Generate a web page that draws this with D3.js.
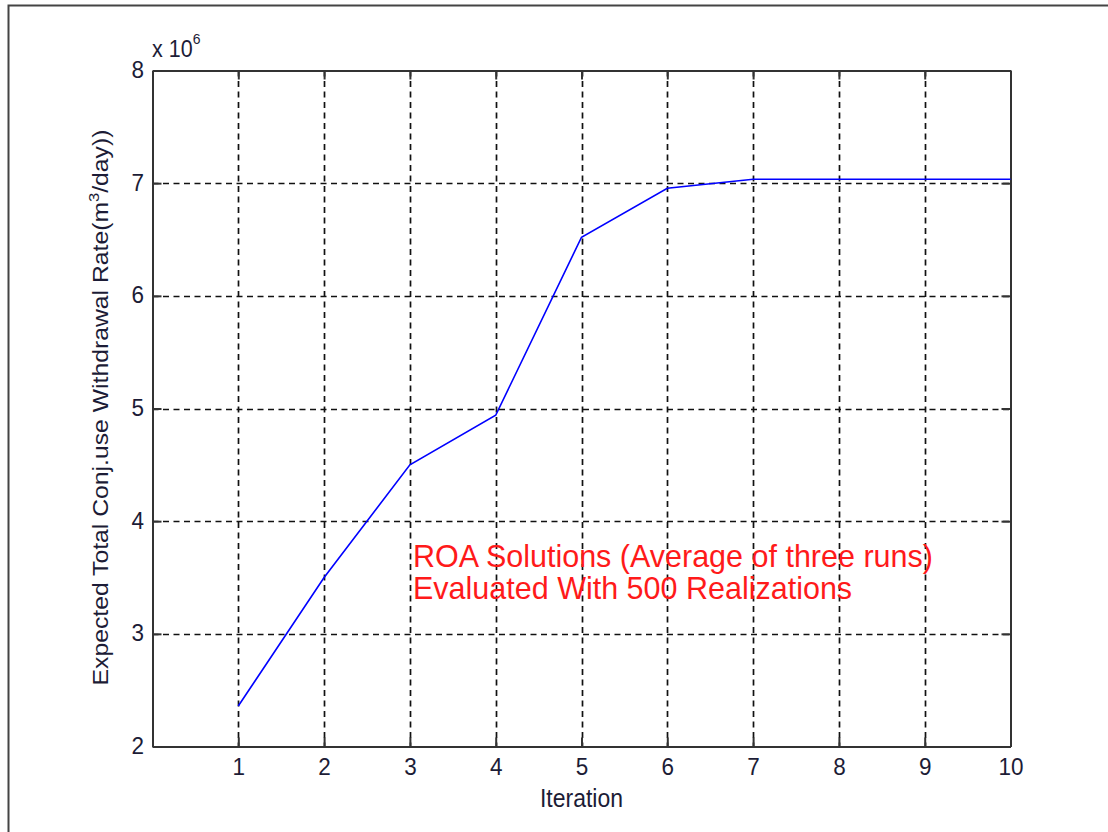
<!DOCTYPE html>
<html>
<head>
<meta charset="utf-8">
<script src="https://cdn.jsdelivr.net/npm/d3@7"></script>
<style>
  html, body { margin: 0; padding: 0; background: #fff; }
  svg { display: block; font-family: "Liberation Sans", Arial, sans-serif; }
</style>
</head>
<body>
<svg id="chart" width="1108" height="832"></svg>
<script>
// Iteration number and expected total conjunctive-use withdrawal rate (x 10^6 m^3/day)
const iterations = [1, 2, 3, 4, 5, 6, 7, 8, 9, 10];
const withdrawal = [2.36, 3.50, 4.50, 4.94, 6.52, 6.955, 7.035, 7.035, 7.035, 7.035];
const xTicks = [1, 2, 3, 4, 5, 6, 7, 8, 9, 10];
const yTicks = [2, 3, 4, 5, 6, 7, 8];
const annotation = ["ROA Solutions (Average of three runs)", "Evaluated With 500 Realizations"];

const svg = d3.select("#chart");
const plot = { left: 152.5, top: 70.5, right: 1010.5, bottom: 746.5 };
const textColor = "#1c1c36";
const fontSize = 22.5;
const stretch = 1.1;   // glyphs are drawn slightly tall

const x = d3.scaleLinear().domain([0, 10]).range([plot.left, plot.right]);
const y = d3.scaleLinear().domain([2, 8]).range([plot.bottom, plot.top]);

// outer figure frame
svg.append("path")
  .attr("d", "M8.5,840 L8.5,5.5 L1120,5.5")
  .attr("fill", "none").attr("stroke", "#444").attr("stroke-width", 2);

const g = svg.append("g");

// dashed grid
g.append("g").selectAll("line").data(xTicks.filter(d => d < 10)).join("line")
  .attr("x1", d => Math.round(x(d)) + 0.5).attr("x2", d => Math.round(x(d)) + 0.5)
  .attr("y1", plot.top).attr("y2", plot.bottom)
  .attr("stroke", "#111").attr("stroke-width", 1.7).attr("stroke-dasharray", "6,4.5");
g.append("g").selectAll("line").data(yTicks.filter(d => d > 2 && d < 8)).join("line")
  .attr("y1", d => Math.round(y(d)) + 0.5).attr("y2", d => Math.round(y(d)) + 0.5)
  .attr("x1", plot.left).attr("x2", plot.right)
  .attr("stroke", "#111").attr("stroke-width", 1.7).attr("stroke-dasharray", "6,4.5");

// axes with inward ticks on all four sides
const tickLen = 9;
const axisStyle = sel => {
  sel.select(".domain").attr("stroke", "#333").attr("stroke-width", 2);
  sel.selectAll(".tick line").attr("stroke", "#333").attr("stroke-width", 2);
  sel.selectAll(".tick text").attr("fill", textColor).attr("font-size", fontSize);
};
g.append("g").attr("transform", `translate(0,${plot.bottom})`)
  .call(d3.axisBottom(x).tickValues(xTicks).tickSizeInner(-tickLen).tickSizeOuter(0).tickFormat(d3.format("d")))
  .call(axisStyle)
  .call(a => a.selectAll(".tick text").attr("y", 0).attr("dy", 0)
    .attr("transform", `translate(0,28.5) scale(1,${stretch})`));
g.append("g").attr("transform", `translate(0,${plot.top})`)
  .call(d3.axisTop(x).tickValues(xTicks).tickSizeInner(-tickLen).tickSizeOuter(0).tickFormat(""))
  .call(axisStyle);
g.append("g").attr("transform", `translate(${plot.left},0)`)
  .call(d3.axisLeft(y).tickValues(yTicks).tickSizeInner(-tickLen).tickSizeOuter(0).tickFormat(d3.format("d")))
  .call(axisStyle)
  .call(a => a.selectAll(".tick text").attr("x", 0).attr("dy", 0)
    .attr("transform", `translate(-8.5,7) scale(1,${stretch})`));
g.append("g").attr("transform", `translate(${plot.right},0)`)
  .call(d3.axisRight(y).tickValues(yTicks).tickSizeInner(-tickLen).tickSizeOuter(0).tickFormat(""))
  .call(axisStyle);

// exponent label
const ex = svg.append("text")
  .attr("transform", `translate(152,57) scale(1,${stretch})`)
  .attr("font-size", 21.5).attr("fill", textColor);
ex.append("tspan").text("x 10");
ex.append("tspan").attr("dy", -12).attr("font-size", 14).text("6");

// data line
const line = d3.line().x((d, i) => x(iterations[i])).y(d => y(d));
g.append("path").datum(withdrawal)
  .attr("d", line)
  .attr("fill", "none").attr("stroke", "#0000ff").attr("stroke-width", 1.6);

// axis titles
svg.append("text")
  .attr("transform", `translate(${x(5)},806.5) scale(1,${stretch})`)
  .attr("text-anchor", "middle").attr("font-size", 23).attr("fill", textColor)
  .text("Iteration");
const yl = svg.append("text")
  .attr("transform", `translate(108,407.5) scale(1,${stretch}) rotate(-90)`)
  .attr("text-anchor", "middle").attr("font-size", fontSize).attr("fill", textColor);
yl.append("tspan").text("Expected Total Conj.use Withdrawal Rate(m");
yl.append("tspan").attr("dy", -9).attr("font-size", 15).text("3");
yl.append("tspan").attr("dy", 9).text("/day))");

// annotation
svg.append("g").selectAll("text").data(annotation).join("text")
  .attr("x", 413).attr("y", (d, i) => 566.5 + i * 32)
  .attr("font-size", 30.5).attr("fill", "#ff1a1a")
  .text(d => d);
</script>
</body>
</html>
